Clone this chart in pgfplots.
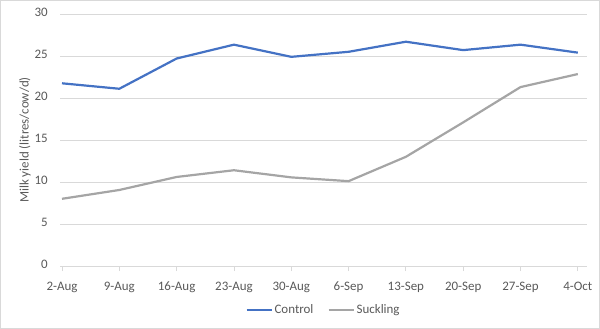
\documentclass[border=0pt]{standalone}
\usepackage{fontspec}
\setmainfont{Carlito}
\usepackage{pgfplots}
\pgfplotsset{compat=1.18}
\definecolor{cblue}{HTML}{4472C4}
\definecolor{cgray}{HTML}{A5A5A5}
\definecolor{gridc}{HTML}{D9D9D9}
\definecolor{txt}{HTML}{595959}
\begin{document}
\begin{tikzpicture}
\begin{axis}[
  at={(0,0)}, anchor=south west,
  scale only axis, width=527bp, height=252bp,
  xmin=-0.035, xmax=9.16, ymin=0, ymax=30,
  ytick={0,5,...,30},
  xtick={0,...,9},
  xticklabels={2-Aug,9-Aug,16-Aug,23-Aug,30-Aug,6-Sep,13-Sep,20-Sep,27-Sep,4-Oct},
  axis x line*=bottom, axis y line*=left,
  x axis line style={draw=gridc, line width=0.8bp, -},
  y axis line style={draw=none},
  ymajorgrids, grid style={draw=gridc, line width=0.8bp},
  tick align=outside,
  major tick length=5bp,
  xtick style={draw=gridc, line width=0.8bp},
  ytick style={draw=none},
  tick label style={font=\fontsize{13}{15}\selectfont, text=txt},
  /pgf/number format/assume math mode=true,
  xticklabel style={anchor=base, inner sep=0pt},
  yticklabel style={anchor=east, inner sep=0pt},
  typeset ticklabels with strut,
  every axis y label/.style={at={(axis description cs:0,0.5)}, xshift=-35bp, rotate=90, anchor=center, font=\fontsize{13}{15}\selectfont, text=txt},
  ylabel={Milk yield (litres/cow/d)},
  legend style={at={(axis description cs:0.5,0)}, anchor=center, yshift=-44bp, draw=none, fill=none, legend columns=2, font=\fontsize{13}{15}\selectfont, text=txt, /tikz/every even column/.append style={column sep=12bp}},
  legend image code/.code={\draw[#1] (0bp,0bp) -- (25bp,0bp);},
]
\pgfplotsset{xticklabel style={yshift=-19bp}, yticklabel style={xshift=-7bp}}
\addplot[cblue, line width=2.2bp, line join=round] coordinates {
(0,21.75) (1,21.1) (2,24.7) (3,26.35) (4,24.9) (5,25.5) (6,26.7) (7,25.7) (8,26.35) (9,25.4)};
\addlegendentry{Control}
\addplot[cgray, line width=2.2bp, line join=round] coordinates {
(0,8.0) (1,9.05) (2,10.6) (3,11.4) (4,10.55) (5,10.1) (6,13.0) (7,17.1) (8,21.3) (9,22.85)};
\addlegendentry{Suckling}
\end{axis}
\draw[gridc, line width=0.8bp] (-59.5bp,-62.5bp) rectangle (539.5bp,265.5bp);
\pgfresetboundingbox
\useasboundingbox (-60bp,-63bp) rectangle (540bp,266bp);
\end{tikzpicture}
\end{document}
